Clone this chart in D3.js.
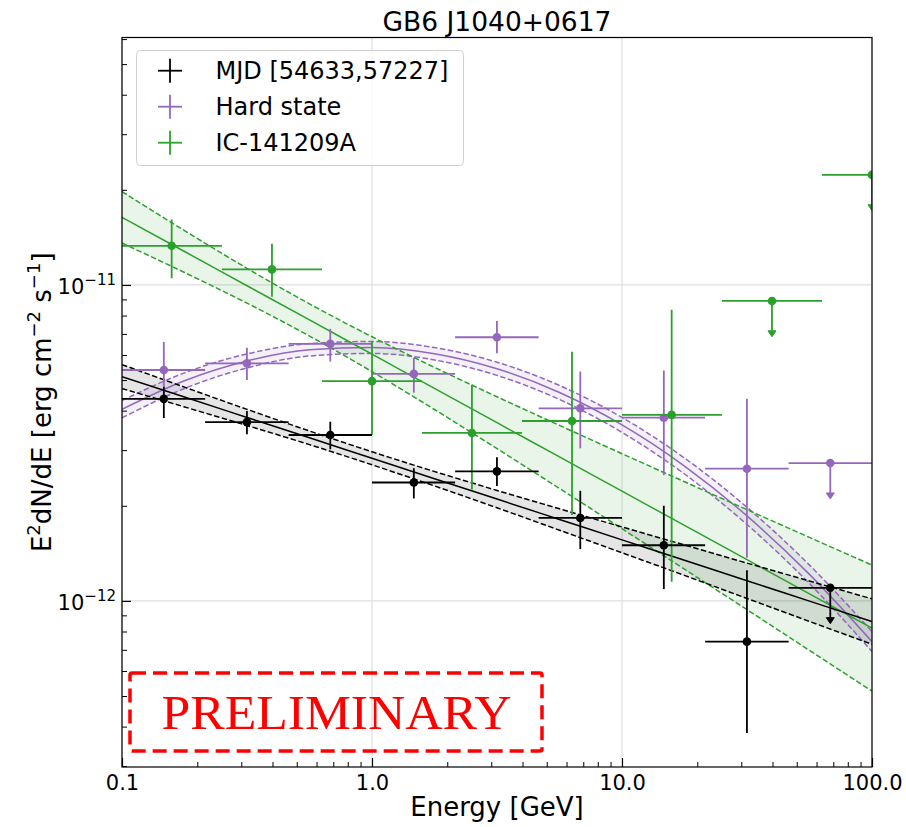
<!DOCTYPE html>
<html>
<head>
<meta charset="utf-8">
<script src="https://cdn.jsdelivr.net/npm/d3@7"></script>
<style>
	body { margin: 0; background: #fff; }
	text { font-family: "DejaVu Sans", sans-serif; }
</style>
</head>
<body>
<div id="chart"></div>
<script>

// --- data points (energy in GeV, E^2 dN/dE in erg cm^-2 s^-1), null errors = upper limit
const mjdEnergy = [0.147, 0.316, 0.681, 1.47, 3.16, 6.81, 14.7, 31.6, 68.1]
const mjdEdges = [0.1, 0.215, 0.464, 1.0, 2.15, 4.64, 10, 21.5, 46.4, 100]
const mjdFlux = [4.36e-12, 3.68e-12, 3.35e-12, 2.37e-12, 2.57e-12, 1.83e-12, 1.50e-12, 7.43e-13, 1.10e-12]
const mjdLow = [3.79e-12, 3.37e-12, 3.02e-12, 2.11e-12, 2.31e-12, 1.46e-12, 1.09e-12, 3.82e-13, null]
const mjdHigh = [4.76e-12, 3.99e-12, 3.69e-12, 2.63e-12, 2.85e-12, 2.23e-12, 2.00e-12, 1.25e-12, null]

const hardEnergy = [0.147, 0.316, 0.681, 1.47, 3.16, 6.81, 14.7, 31.6, 68.1]
const hardEdges = [0.1, 0.215, 0.464, 1.0, 2.15, 4.64, 10, 21.5, 46.4, 100]
const hardFlux = [5.38e-12, 5.65e-12, 6.51e-12, 5.23e-12, 6.83e-12, 4.07e-12, 3.80e-12, 2.62e-12, 2.73e-12]
const hardLow = [4.50e-12, 5.00e-12, 5.72e-12, 4.56e-12, 6.08e-12, 3.04e-12, 2.50e-12, 1.37e-12, null]
const hardHigh = [6.60e-12, 6.33e-12, 7.26e-12, 5.88e-12, 7.69e-12, 5.32e-12, 5.36e-12, 4.36e-12, null]

const icEnergy = [0.158, 0.398, 1.0, 2.51, 6.31, 15.8, 39.8, 100]
const icEdges = [0.1, 0.251, 0.631, 1.585, 3.98, 10, 25.1, 63.1, 158.5]
const icFlux = [1.33e-11, 1.12e-11, 4.96e-12, 3.40e-12, 3.71e-12, 3.88e-12, 8.9e-12, 2.23e-11]
const icLow = [1.05e-11, 9.18e-12, 3.35e-12, 2.25e-12, 1.87e-12, 1.15e-12, null, null]
const icHigh = [1.61e-11, 1.35e-11, 6.62e-12, 4.83e-12, 6.15e-12, 8.34e-12, null, null]

// --- fitted models (value, lower and upper edge of the band)
const modelEnergy = [0.1, 0.1778, 0.3162, 0.5623, 1.0, 1.778, 3.162, 5.623, 10, 17.78, 31.62, 56.23, 100]

const mjdModel = [5.127e-12, 4.418e-12, 3.808e-12, 3.282e-12, 2.827e-12, 2.436e-12, 2.100e-12, 1.810e-12, 1.560e-12, 1.345e-12, 1.158e-12, 9.98e-13, 8.60e-13]
const mjdModelLow = [4.698e-12, 4.111e-12, 3.590e-12, 3.123e-12, 2.696e-12, 2.311e-12, 1.971e-12, 1.674e-12, 1.420e-12, 1.204e-12, 1.018e-12, 8.61e-13, 7.29e-13]
const mjdModelHigh = [5.596e-12, 4.748e-12, 4.039e-12, 3.449e-12, 2.964e-12, 2.567e-12, 2.237e-12, 1.957e-12, 1.714e-12, 1.503e-12, 1.317e-12, 1.156e-12, 1.015e-12]

const hardModel = [4.042e-12, 4.977e-12, 5.748e-12, 6.233e-12, 6.342e-12, 6.056e-12, 5.428e-12, 4.566e-12, 3.606e-12, 2.672e-12, 1.858e-12, 1.213e-12, 7.43e-13]
const hardModelLow = [3.794e-12, 4.702e-12, 5.462e-12, 5.958e-12, 6.071e-12, 5.789e-12, 5.173e-12, 4.339e-12, 3.414e-12, 2.521e-12, 1.745e-12, 1.134e-12, 6.91e-13]
const hardModelHigh = [4.306e-12, 5.268e-12, 6.049e-12, 6.521e-12, 6.625e-12, 6.336e-12, 5.696e-12, 4.805e-12, 3.808e-12, 2.832e-12, 1.978e-12, 1.298e-12, 7.99e-13]

const icModel = [1.637e-11, 1.276e-11, 9.943e-12, 7.748e-12, 6.036e-12, 4.703e-12, 3.664e-12, 2.855e-12, 2.224e-12, 1.733e-12, 1.350e-12, 1.052e-12, 8.20e-13]
const icModelLow = [1.357e-11, 1.095e-11, 8.758e-12, 6.891e-12, 5.315e-12, 4.034e-12, 3.033e-12, 2.269e-12, 1.692e-12, 1.260e-12, 9.38e-13, 6.97e-13, 5.18e-13]
const icModelHigh = [1.975e-11, 1.486e-11, 1.129e-11, 8.711e-12, 6.855e-12, 5.483e-12, 4.426e-12, 3.593e-12, 2.923e-12, 2.383e-12, 1.944e-12, 1.588e-12, 1.298e-12]

const xTicks = [0.1, 1, 10, 100]
const yTicks = [1e-12, 1e-11]
const legendLabels = ["MJD [54633,57227]", "Hard state", "IC-141209A"]

const colors = ["#000000", "#9467bd", "#2ca02c"]

let series = [
	{energy: hardEnergy, edges: hardEdges, flux: hardFlux, lo: hardLow, hi: hardHigh,
	 model: hardModel, modelLo: hardModelLow, modelHi: hardModelHigh, color: colors[1]},
	{energy: icEnergy, edges: icEdges, flux: icFlux, lo: icLow, hi: icHigh,
	 model: icModel, modelLo: icModelLow, modelHi: icModelHigh, color: colors[2]},
	{energy: mjdEnergy, edges: mjdEdges, flux: mjdFlux, lo: mjdLow, hi: mjdHigh,
	 model: mjdModel, modelLo: mjdModelLow, modelHi: mjdModelHigh, color: colors[0]}
]

let width = 906
let height = 827
let plotLeft = 122, plotRight = 872, plotTop = 37.5, plotBottom = 767

// upper limit arrows point down by this factor
let ulFactor = 0.77

const svg = d3.select('#chart')
	.append('svg')
	.attr('width', width)
	.attr('height', height)

let x = d3.scaleLog()
	.domain([0.1, 100])
	.range([plotLeft, plotRight])

let y = d3.scaleLog()
	.domain([2.98e-13, 6.07e-11])
	.range([plotBottom, plotTop])

svg.append('defs')
	.append('clipPath')
	.attr('id', 'plotclip')
	.append('rect')
	.attr('x', plotLeft)
	.attr('y', plotTop)
	.attr('width', plotRight - plotLeft)
	.attr('height', plotBottom - plotTop)

// grid
let grid = svg.append('g').attr('stroke', '#dedede').attr('stroke-width', 1.2)
xTicks.forEach(function(t){
	grid.append('line').attr('x1', x(t)).attr('x2', x(t)).attr('y1', plotTop).attr('y2', plotBottom)
})
yTicks.forEach(function(t){
	grid.append('line').attr('x1', plotLeft).attr('x2', plotRight).attr('y1', y(t)).attr('y2', y(t))
})

let plot = svg.append('g').attr('clip-path', 'url(#plotclip)')

let area = d3.area()
	.x(d => x(d.e))
	.y0(d => y(d.lo))
	.y1(d => y(d.hi))
	.curve(d3.curveMonotoneX)

let line = d3.line()
	.x(d => x(d[0]))
	.y(d => y(d[1]))
	.curve(d3.curveMonotoneX)

// model bands
series.forEach(function(s){
	let pts = modelEnergy.map((e, i) => ({e: e, lo: s.modelLo[i], hi: s.modelHi[i]}))
	plot.append('path')
		.datum(pts)
		.attr('d', area)
		.attr('fill', s.color)
		.attr('fill-opacity', 0.1)
})

series.forEach(function(s){
	[s.modelLo, s.modelHi].forEach(function(edge){
		plot.append('path')
			.datum(modelEnergy.map((e, i) => [e, edge[i]]))
			.attr('d', line)
			.attr('fill', 'none')
			.attr('stroke', s.color)
			.attr('stroke-width', 1.5)
			.attr('stroke-dasharray', '5.5,2.5')
	})
	plot.append('path')
		.datum(modelEnergy.map((e, i) => [e, s.model[i]]))
		.attr('d', line)
		.attr('fill', 'none')
		.attr('stroke', s.color)
		.attr('stroke-width', 1.5)
})

// data points with error bars
series.forEach(function(s){
	let g = plot.append('g')
		.attr('stroke', s.color)
		.attr('fill', s.color)
		.attr('stroke-width', 1.8)

	s.energy.forEach(function(e, i){
		let px = x(e)
		let py = y(s.flux[i])

		g.append('line')
			.attr('x1', x(s.edges[i]))
			.attr('x2', x(s.edges[i + 1]))
			.attr('y1', py)
			.attr('y2', py)

		if (s.lo[i] == null){
			let yEnd = y(s.flux[i] * ulFactor)
			g.append('line')
				.attr('x1', px).attr('x2', px)
				.attr('y1', py).attr('y2', yEnd - 4)
			g.append('path')
				.attr('d', `M${px - 4},${yEnd - 6} L${px + 4},${yEnd - 6} L${px},${yEnd} Z`)
				.attr('stroke-width', 1)
		}
		else {
			g.append('line')
				.attr('x1', px).attr('x2', px)
				.attr('y1', y(s.hi[i])).attr('y2', y(s.lo[i]))
		}

		g.append('circle')
			.attr('cx', px)
			.attr('cy', py)
			.attr('r', 4.3)
			.attr('stroke', 'none')
	})
})

// axes: ticks point inwards
function minorValues(domain){
	let vals = []
	for (let dec = Math.floor(Math.log10(domain[0])); dec <= Math.ceil(Math.log10(domain[1])); dec++){
		for (let k = 2; k <= 9; k++){
			let v = k * Math.pow(10, dec)
			if (v > domain[0] && v < domain[1]) vals.push(v)
		}
	}
	return vals
}

let xAxis = svg.append('g')
	.attr('transform', `translate(0,${plotBottom})`)
	.call(d3.axisBottom(x).tickValues(xTicks).tickSize(-9).tickPadding(8).tickFormat(d3.format('.1f')))
xAxis.select('.domain').remove()
xAxis.selectAll('text').attr('font-size', 21).attr('fill', '#000')
xAxis.selectAll('line').attr('stroke-width', 1.2)

let xMinor = svg.append('g')
	.attr('transform', `translate(0,${plotBottom})`)
	.call(d3.axisBottom(x).tickValues(minorValues(x.domain())).tickSize(-5).tickFormat(''))
xMinor.select('.domain').remove()

let yAxis = svg.append('g')
	.attr('transform', `translate(${plotLeft},0)`)
	.call(d3.axisLeft(y).tickValues(yTicks).tickSize(-9).tickPadding(6).tickFormat(''))
yAxis.select('.domain').remove()
yAxis.selectAll('line').attr('stroke-width', 1.2)
yAxis.selectAll('text')
	.attr('font-size', 21)
	.attr('fill', '#000')
	.attr('dy', '0.4em')
	.each(function(d){
		let t = d3.select(this)
		t.append('tspan').text('10')
		t.append('tspan').attr('font-size', 15).attr('dy', -9).text('\u2212' + Math.round(-Math.log10(d)))
	})

let yMinor = svg.append('g')
	.attr('transform', `translate(${plotLeft},0)`)
	.call(d3.axisLeft(y).tickValues(minorValues(y.domain())).tickSize(-5).tickFormat(''))
yMinor.select('.domain').remove()

svg.append('rect')
	.attr('x', plotLeft)
	.attr('y', plotTop)
	.attr('width', plotRight - plotLeft)
	.attr('height', plotBottom - plotTop)
	.attr('fill', 'none')
	.attr('stroke', '#000')
	.attr('stroke-width', 1.2)

// labels
svg.append('text')
	.attr('x', (plotLeft + plotRight) / 2)
	.attr('y', 31)
	.attr('text-anchor', 'middle')
	.attr('font-size', 26.5)
	.text('GB6 J1040+0617')

svg.append('text')
	.attr('x', (plotLeft + plotRight) / 2)
	.attr('y', 816)
	.attr('text-anchor', 'middle')
	.attr('font-size', 26)
	.text('Energy [GeV]')

let yl = svg.append('text')
	.attr('transform', `translate(51,${(plotTop + plotBottom) / 2}) rotate(-90)`)
	.attr('text-anchor', 'middle')
	.attr('font-size', 26)
yl.append('tspan').text('E')
yl.append('tspan').attr('font-size', 18).attr('dy', -11).text('2')
yl.append('tspan').attr('dy', 11).text('dN/dE [erg cm')
yl.append('tspan').attr('font-size', 18).attr('dy', -11).text('\u22122')
yl.append('tspan').attr('dy', 11).text(' s')
yl.append('tspan').attr('font-size', 18).attr('dy', -11).text('\u22121')
yl.append('tspan').attr('dy', 11).text(']')

// preliminary stamp
svg.append('rect')
	.attr('x', 130)
	.attr('y', 673)
	.attr('width', 412)
	.attr('height', 78)
	.attr('rx', 2)
	.attr('fill', 'none')
	.attr('stroke', '#ff0000')
	.attr('stroke-width', 3.5)
	.attr('stroke-dasharray', '14,7')

svg.append('text')
	.attr('x', 336.5)
	.attr('y', 728.5)
	.attr('text-anchor', 'middle')
	.attr('font-size', 48)
	.attr('fill', '#ff0000')
	.attr('textLength', 350)
	.attr('lengthAdjust', 'spacingAndGlyphs')
	.style('font-family', '"Liberation Serif", serif')
	.text('PRELIMINARY')

// legend
let legend = svg.append('g')

legend.append('rect')
	.attr('x', 136.5)
	.attr('y', 50.5)
	.attr('width', 327)
	.attr('height', 115)
	.attr('rx', 4)
	.attr('fill', '#fff')
	.attr('fill-opacity', 0.8)
	.attr('stroke', '#d0d0d0')
	.attr('stroke-width', 1)

legendLabels.forEach(function(label, i){
	let cy = 70.7 + i * 36
	legend.append('line')
		.attr('x1', 158).attr('x2', 182)
		.attr('y1', cy).attr('y2', cy)
		.attr('stroke', colors[i]).attr('stroke-width', 1.8)
	legend.append('line')
		.attr('x1', 170).attr('x2', 170)
		.attr('y1', cy - 12).attr('y2', cy + 12)
		.attr('stroke', colors[i]).attr('stroke-width', 1.8)
	legend.append('text')
		.attr('x', 215.5)
		.attr('y', cy + 8.5)
		.attr('font-size', 24)
		.text(label)
})

</script>
</body>
</html>
